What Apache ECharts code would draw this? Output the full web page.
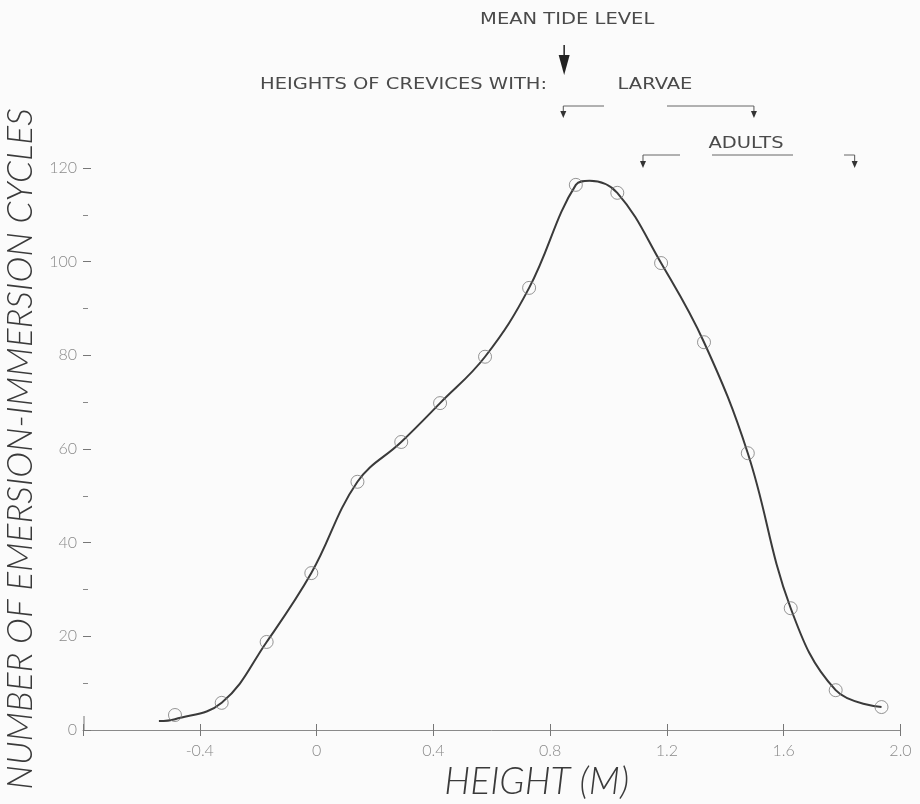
<!DOCTYPE html>
<html>
<head>
<meta charset="utf-8">
<script src="https://cdn.jsdelivr.net/npm/echarts@6/dist/echarts.min.js"></script>
<style>
  html, body { margin: 0; padding: 0; background: #fbfbfb; }
  #chart { width: 920px; height: 804px; }
</style>
</head>
<body>
<div id="chart"></div>
<script>
// measured points (open circles)
const heights = [-0.485, -0.325, -0.171, -0.018, 0.14, 0.29, 0.423, 0.577, 0.728, 0.888, 1.03, 1.18, 1.327, 1.477, 1.624, 1.778, 1.935];
const cycles  = [3.2, 5.8, 18.8, 33.5, 53, 61.5, 69.8, 79.7, 94.4, 116.4, 114.7, 99.7, 82.8, 59.1, 26, 8.5, 4.9];
// hand drawn curve through the points (with its start and its top)
const curveX = [-0.54, -0.485, -0.325, -0.171, -0.018, 0.14, 0.29, 0.423, 0.577, 0.728, 0.888, 0.935, 1.03, 1.18, 1.327, 1.477, 1.624, 1.778, 1.935];
const curveY = [1.9, 2.3, 5.8, 18.8, 33.5, 53, 61.5, 69.8, 79.7, 94.4, 116.4, 117.3, 114.7, 99.7, 82.8, 59.1, 26, 8.5, 4.9];
// annotation heights (m)
const meanTide = 0.848;
const larvae = [0.845, 1.498];
const adults = [1.118, 1.843];

const chart = echarts.init(document.getElementById('chart'));

const labelFont = { color: '#8a8a8a', fontSize: 16, fontFamily: 'Lato', fontWeight: 300 };
const titleFont = { color: '#3a3a3a', fontFamily: 'Lato', fontWeight: 300, fontStyle: 'italic' };

const fmtX = v => {
  const r = Math.round(v * 10) / 10;
  if (r === -0.8) return '';
  if (r === 0) return '0';
  return r.toFixed(1);
};

const option = {
  backgroundColor: '#fbfbfb',
  animation: false,
  grid: { left: 83, right: 19.5, top: 168, bottom: 74, outerBoundsMode: 'none', containLabel: false },
  xAxis: [
    {
      type: 'value', min: -0.8, max: 2.0, interval: 0.4,
      axisLine: { onZero: false, lineStyle: { color: '#8a8a8a', width: 1 } },
      axisTick: { show: true, length: 6, lineStyle: { color: '#777' } },
      axisLabel: Object.assign({ margin: 13, formatter: fmtX }, labelFont),
      splitLine: { show: false },
      name: 'HEIGHT (M)', nameLocation: 'middle', nameGap: 19,
      nameTextStyle: Object.assign({ fontSize: 37, padding: [0, 0, 0, 90] }, titleFont)
    },
    {
      type: 'value', min: -0.8, max: 2.0, interval: 0.4, position: 'bottom',
      axisLine: { show: false, onZero: false },
      axisTick: { show: true, inside: true, length: 6, lineStyle: { color: '#777' } },
      axisLabel: { show: false },
      splitLine: { show: false }
    }
  ],
  yAxis: {
    type: 'value', min: 0, max: 120, interval: 20,
    axisLine: { show: false, onZero: false },
    axisTick: { show: true, inside: true, length: 8, lineStyle: { color: '#777' } },
    minorTick: { show: true, splitNumber: 2, length: 5, lineStyle: { color: '#888' } },
    axisLabel: Object.assign({ margin: 6 }, labelFont),
    splitLine: { show: false },
    name: 'NUMBER OF EMERSION-IMMERSION CYCLES', nameLocation: 'middle', nameGap: 40,
    nameTextStyle: Object.assign({ fontSize: 35 }, titleFont)
  },
  series: [
    {
      type: 'line', smooth: 0.4, showSymbol: false,
      data: curveX.map((x, i) => [x, curveY[i]]),
      lineStyle: { color: '#3a3a3a', width: 2 }, z: 2
    },
    {
      type: 'scatter', symbol: 'circle', symbolSize: 13,
      data: heights.map((x, i) => [x, cycles[i]]),
      itemStyle: { color: 'rgba(0,0,0,0)', borderColor: '#7a7a7a', borderWidth: 1 }, z: 3
    }
  ]
};
chart.setOption(option);

// annotations above the plot, placed at their heights on the x axis
const px = v => chart.convertToPixel({ xAxisIndex: 0 }, v);
const ink = '#4a4a4a';
// the lettering in the original is wide, so stretch it sideways
const txt = (text, x, y, align) => ({
  type: 'text', x, y, scaleX: 1.3,
  style: { text, x: 0, y: 0, fill: ink, font: '15px "DejaVu Sans"', textAlign: align || 'center', textVerticalAlign: 'middle' }
});
const seg = (x1, x2, y) => ({ type: 'line', shape: { x1, y1: y, x2, y2: y }, style: { stroke: '#666', lineWidth: 1 } });
const down = (x, y1, y2) => ([
  { type: 'line', shape: { x1: x, y1, x2: x, y2: y2 - 6 }, style: { stroke: '#555', lineWidth: 1 } },
  { type: 'polygon', shape: { points: [[x - 3, y2 - 7], [x + 3, y2 - 7], [x, y2]] }, style: { fill: '#333' } }
]);

const tx = px(meanTide);
const l0 = px(larvae[0]), l1 = px(larvae[1]);
const a0 = px(adults[0]), a1 = px(adults[1]);
const yZero = chart.convertToPixel({ yAxisIndex: 0 }, 0);

const graphic = [
  txt('MEAN TIDE LEVEL', tx + 3, 20),
  { type: 'line', shape: { x1: tx, y1: 45, x2: tx, y2: 56 }, style: { stroke: '#222', lineWidth: 1.5 } },
  { type: 'polygon', shape: { points: [[tx - 5.5, 55], [tx + 5.5, 55], [tx, 75]] }, style: { fill: '#222' } },
  txt('HEIGHTS OF CREVICES WITH:', 260, 85, 'left'),
  txt('LARVAE', 655, 85),
  seg(l0, 604, 106), seg(667, l1, 106),
  ...down(l0, 106, 118), ...down(l1, 106, 118),
  txt('ADULTS', 746, 144),
  seg(a0, 680, 155), seg(712, 793, 155), seg(844, a1, 155),
  ...down(a0, 155, 168), ...down(a1, 155, 168),
  // break in the x axis line and the stub of the y axis
  { type: 'rect', shape: { x: px(0.041), y: yZero - 2, width: px(0.164) - px(0.041), height: 4 }, style: { fill: '#fbfbfb' } },
  { type: 'line', shape: { x1: 84, y1: yZero - 14, x2: 84, y2: yZero }, style: { stroke: '#777', lineWidth: 1 } }
];
chart.setOption({ graphic });
</script>
</body>
</html>
